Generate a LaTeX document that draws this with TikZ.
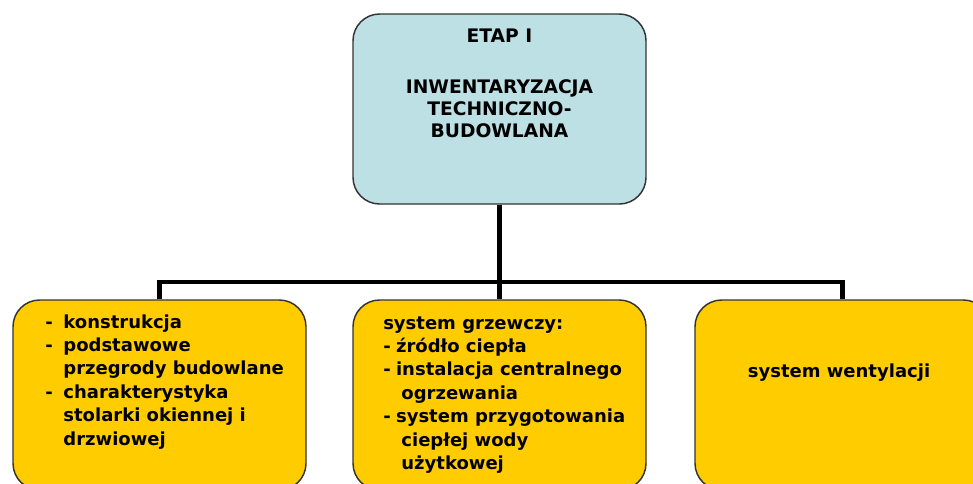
\documentclass[tikz,border=0pt]{standalone}
\usepackage{fontspec}
\setmainfont{DejaVu Sans}
\begin{document}
\begin{tikzpicture}[x=0.75pt,y=-0.75pt,
  box/.style={draw=black!80,line width=1.1pt,rounded corners=20pt,
    minimum width=#1*0.75pt,minimum height=190*0.75pt,inner sep=0pt},
  box/.default=293,
  topbox/.style={box,fill=topblue},
  subbox/.style={box=#1,fill=subyellow},
  subbox/.default=293,
  conn/.style={line width=3.2pt,black},
  txt/.style={inner sep=0pt,font=\bfseries\fontsize{13.5}{17.6}\selectfont,text=black},
  ttxt/.style={inner sep=0pt,font=\bfseries\fontsize{14}{16.5}\selectfont,align=center,text=black}
]
\definecolor{topblue}{HTML}{BCE0E4}
\definecolor{subyellow}{HTML}{FFCC00}
\useasboundingbox (0,0) rectangle (973,483);

\node[topbox] (top) at (499.5,109) {};
\node[subbox] (left) at (159.5,395) {};
\node[subbox] (mid) at (499.5,395) {};
\node[subbox=295] (right) at (842.5,395) {};

\coordinate (bus) at (499.5,282);
\draw[conn] (top.south) -- (mid.north);
\draw[conn] (left.north) |- (bus) -| (right.north);

\node[ttxt,anchor=base] (ttitle) at (499.5,42) {ETAP I};
\node[ttxt,anchor=base] (tsub) at (499.5,137) {INWENTARYZACJA\\TECHNICZNO-\\BUDOWLANA};

\node[txt,anchor=base west] (ltext) at (45,328) {%
\begin{tabular}[t]{@{}l@{\hspace{8pt}}l@{}}
- & konstrukcja\\
- & podstawowe\\
  & przegrody budowlane\\
- & charakterystyka\\
  & stolarki okiennej i\\
  & drzwiowej
\end{tabular}};

\node[txt,anchor=base west] (mtext) at (383,329) {%
\begin{tabular}[t]{@{}l@{\hspace{4pt}}l@{}}
\multicolumn{2}{@{}l@{}}{system grzewczy:}\\
- & źródło ciepła\\
- & instalacja centralnego\\
  & \hspace{4pt}ogrzewania\\
- & system przygotowania\\
  & \hspace{4pt}ciepłej wody\\
  & \hspace{4pt}użytkowej
\end{tabular}};

\node[txt,anchor=base] (rtext) at (839,377) {system wentylacji};
\end{tikzpicture}
\end{document}
